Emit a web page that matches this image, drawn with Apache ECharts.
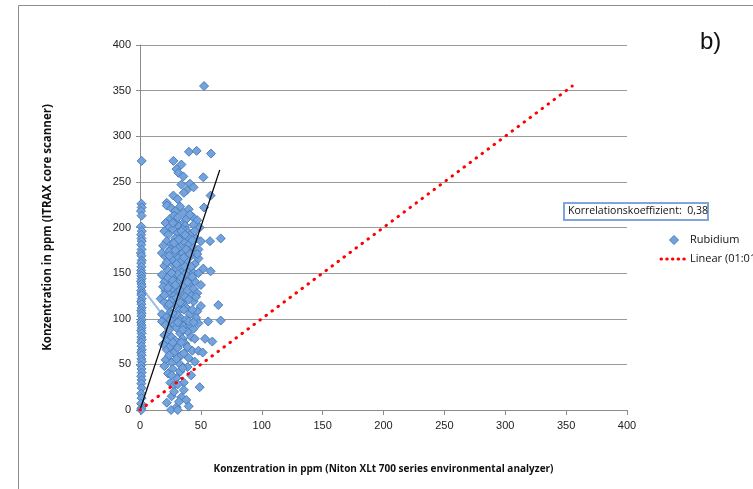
<!DOCTYPE html>
<html><head><meta charset="utf-8">
<script src="https://cdn.jsdelivr.net/npm/echarts@6/dist/echarts.min.js"></script>
<style>html,body{margin:0;padding:0;background:#fff}#c{width:753px;height:489px}</style>
</head><body><div id="c"></div>
<script>
// Tick labels
const xTicks = [0, 50, 100, 150, 200, 250, 300, 350, 400];
const yTicks = [0, 50, 100, 150, 200, 250, 300, 350, 400];

// Rubidium: points at x ~ 0 (column)
const columnPoints = [
  [1.4,273],[1.2,226],[1.4,222],[0.8,218],[1.3,213],[1.0,201],[1.5,196],[0.9,192],[1.2,188],[1.4,185],
  [1.0,181],[1.3,176],[0.7,172],[1.2,169],[1.4,164],[1.0,161],[1.2,157],[0.9,153],[1.4,150],[1.1,147],
  [1.3,144],[0.8,141],[1.2,138],[1.4,135],[1.0,131],[1.3,128],[1.1,126],[1.4,122],[0.9,119],[1.2,116],
  [1.4,112],[1.0,109],[1.3,106],[1.1,103],[1.4,99],[0.9,96],[1.2,93],[1.4,90],[1.0,87],[1.3,84],
  [1.1,80],[1.4,77],[0.9,74],[1.2,70],[1.4,66],[1.0,63],[1.3,60],[1.1,56],[1.4,53],[0.9,49],
  [1.2,45],[1.4,41],[1.0,37],[1.3,33],[1.1,29],[1.4,24],[1.0,18],[1.3,13],[0.9,7],[1.2,2],[1.0,0]
];

// Rubidium: main cluster
const clusterPoints = [
  [52.6,355],[40.2,283],[46.5,284],[58.3,281],[27.4,273],[34,269],[30,264],[31.5,260],[35.6,256],[52,255],
  [34,247],[41,248],[38.5,241],[58,235],[27.4,235],[22,227],[52.6,222],[44,244],[36,238],[31,231],
  [22,224],[26,221],[29,218],[33,223],[36,216],[40,220],[43,212],[47,208],[25,210],[30,206],
  [35,204],[38,209],[44,203],[49,200],[21,205],[28,213],[32,201],[41,214],[24,200],[37,202],
  [20,196],[23,192],[27,198],[31,194],[34,190],[38,197],[42,193],[46,188],[50,185],[57.5,185],
  [66.3,188],[22,185],[26,182],[29,188],[33,179],[36,185],[40,181],[44,178],[48,176],[25,176],
  [31,177],[39,190],[45,196],[19,180],[35,198],
  [18,172],[21,168],[24,174],[28,170],[31,166],[35,172],[38,163],[42,169],[45,160],[48,166],
  [52,155],[58,152],[20,158],[23,153],[27,160],[30,155],[34,151],[37,157],[41,153],[44,150],
  [26,165],[33,162],[40,174],[47,171],[22,162],[36,167],[29,175],
  [18,148],[20,140],[23,145],[26,138],[29,147],[32,142],[35,136],[38,144],[41,139],[44,133],
  [47,128],[50,137],[21,130],[24,127],[27,133],[30,128],[33,131],[36,126],[39,130],[42,125],
  [45,141],[19,135],[31,149],[37,149],[28,125],
  [17,122],[20,118],[23,113],[26,120],[29,115],[32,109],[35,117],[38,112],[41,105],[44,119],
  [47,108],[50,114],[64.3,115],[18,105],[22,102],[25,107],[28,101],[31,104],[34,100],[37,124],
  [40,121],[43,110],[46,101],[30,123],[24,116],
  [18,97],[21,93],[24,88],[27,95],[30,90],[33,84],[36,92],[39,86],[42,80],[45,78],
  [48,95],[53.4,78],[56,97],[66.3,98],[59.4,75],[20,82],[23,77],[26,80],[29,76],[32,98],
  [35,78],[38,99],[41,93],[44,89],[25,99],
  [19,72],[22,66],[25,70],[28,63],[31,68],[34,60],[37,73],[40,57],[43,65],[48,65],
  [51.5,63],[21,55],[26,52],[30,56],[33,50],[36,62],[39,69],[27,74],[45,53],[24,60],
  [20,48],[23,40],[27,45],[30,35],[33,42],[36,30],[39,47],[42,38],[49,25],[25,30],
  [28,27],[35,46],[31,28],[26,38],
  [22,8],[26,15],[30,3],[34,14],[32,9],[38,11],[40,4],[25.5,0],[31,0],[28,20],[36,22],
  [27,205],[31,211],[34,196],[37,192],[43,186],[28,183],[32,187],[38,176],[41,171],[24,169],
  [30,160],[34,145],[39,140],[43,146],[27,142],[29,137],[33,118],[36,110],[40,97],[27,106],
  [31,96],[35,88],[23,134],[46,124],[48,150],[42,157],[26,150],[20,126],[44,96],[34,74]
];

// Lines
const oneToOneLine = [[0,0],[355,355]];
const trendLine = [[0,0],[65.5,263]];
const connectorLine = [[1.4,134],[21.6,99]];

const corrText = 'Korrelationskoeffizient:  0,38';
const seriesNames = ['Rubidium', 'Linear (01:01)'];

const chart = echarts.init(document.getElementById('c'));
const FONT = 'Open Sans, Noto Sans, sans-serif';
const DOT = '#ff0000';
chart.setOption({
  animation: false,
  backgroundColor: '#fff',
  grid: { left: 140, right: 126, top: 45, bottom: 79, containLabel: false },
  xAxis: {
    type: 'value', min: 0, max: 400, interval: 50,
    name: 'Konzentration in ppm (Niton XLt 700 series environmental analyzer)',
    nameLocation: 'middle', nameGap: 54,
    nameTextStyle: { fontFamily: FONT, fontSize: 10, fontWeight: 'bold', color: '#111' },
    axisLine: { lineStyle: { color: '#8c8c8c', width: 1 } },
    axisTick: { show: true, length: 5, lineStyle: { color: '#8c8c8c' } },
    axisLabel: { fontFamily: 'Liberation Sans, sans-serif', fontSize: 11, color: '#222', margin: 10 },
    splitLine: { show: false }
  },
  yAxis: {
    type: 'value', min: 0, max: 400, interval: 50,
    name: 'Konzentration in ppm (ITRAX core scanner)',
    nameLocation: 'middle', nameGap: 86,
    nameTextStyle: { fontFamily: FONT, fontSize: 11.5, fontWeight: 'bold', color: '#111' },
    axisLine: { show: true, lineStyle: { color: '#8c8c8c', width: 1 } },
    axisTick: { show: true, length: 4, lineStyle: { color: '#8c8c8c' } },
    axisLabel: { fontFamily: 'Liberation Sans, sans-serif', fontSize: 11, color: '#222', margin: 9 },
    splitLine: { show: true, lineStyle: { color: '#9a9a9a', width: 1 } }
  },
  legend: { show: false },
  series: [
    {
      name: 'connector', type: 'line', data: connectorLine, symbol: 'none', silent: true,
      lineStyle: { color: '#9dbde6', width: 2 }, z: 1
    },
    {
      name: seriesNames[0], type: 'scatter', data: columnPoints.concat(clusterPoints),
      symbol: 'diamond', symbolSize: 9,
      itemStyle: { color: '#74a2dc', borderColor: '#4a7ebb', borderWidth: 1, opacity: 1 }, z: 2
    },
    {
      name: 'trend', type: 'line', data: trendLine, symbol: 'none', silent: true,
      lineStyle: { color: '#000', width: 1.2 }, z: 3
    },
    {
      name: seriesNames[1], type: 'line', data: oneToOneLine, symbol: 'none',
      lineStyle: { color: DOT, width: 3, type: [0.5, 7], cap: 'round' }, z: 4
    }
  ],
  graphic: [
    { type: 'rect', shape: { x: 18.5, y: 5.5, width: 800, height: 600 },
      style: { fill: 'none', stroke: '#8c8c8c', lineWidth: 1 }, silent: true, z: -10 },
    { type: 'rect', shape: { x: 564, y: 203, width: 144, height: 17 },
      style: { fill: '#fff', stroke: '#7ea6d8', lineWidth: 2 }, z: 10 },
    { type: 'text', x: 568, y: 211.5,
      style: { text: corrText, fontFamily: FONT, fontSize: 10.5, fill: '#111', verticalAlign: 'middle' }, z: 11 },
    { type: 'text', left: 700, top: 30,
      style: { text: 'b)', fontFamily: 'Liberation Sans, sans-serif', fontSize: 24, fill: '#111' }, z: 11 },
    // legend
    { type: 'polygon', shape: { points: [[674,235.5],[678.5,240],[674,244.5],[669.5,240]] },
      style: { fill: '#74a2dc', stroke: '#4a7ebb', lineWidth: 1 }, z: 11 },
    { type: 'text', x: 690, y: 240,
      style: { text: seriesNames[0], fontFamily: FONT, fontSize: 11, fill: '#111', verticalAlign: 'middle' }, z: 11 },
    { type: 'line', shape: { x1: 661, y1: 259, x2: 688, y2: 259 },
      style: { stroke: DOT, lineWidth: 3, lineDash: [0.5, 5.2], lineCap: 'round' }, z: 11 },
    { type: 'text', x: 690, y: 259,
      style: { text: seriesNames[1], fontFamily: FONT, fontSize: 11, fill: '#111', verticalAlign: 'middle' }, z: 11 }
  ]
});
</script></body></html>
